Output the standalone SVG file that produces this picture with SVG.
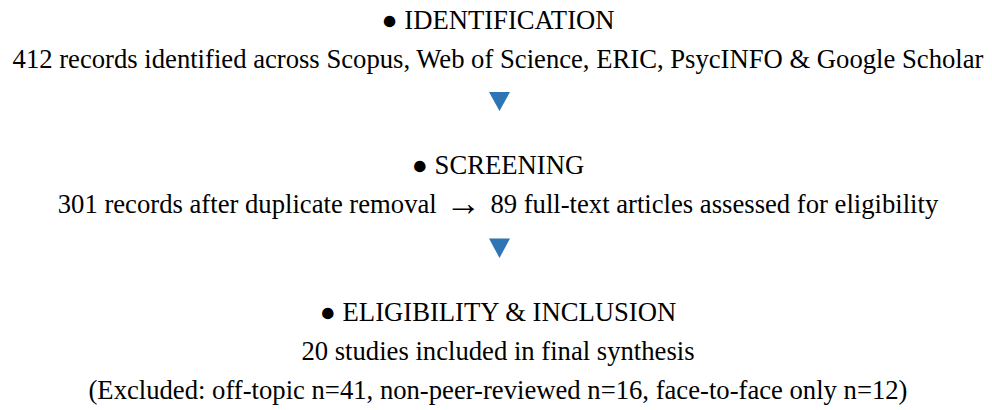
<svg xmlns="http://www.w3.org/2000/svg" width="992" height="410" viewBox="0 0 992 410">
  <style>
    text { font-family: 'Liberation Serif', 'DejaVu Serif', serif; font-size: 26.67px; fill: #000; text-anchor: middle; }
    .sym { font-size: 36px; }
    .arrow { fill: #2E75B6; }
  </style>
  <rect width="992" height="410" fill="#ffffff"/>
  <g id="identification">
    <text x="498" y="29">● IDENTIFICATION</text>
    <text x="498" y="68">412 records identified across Scopus, Web of Science, ERIC, PsycINFO &amp; Google Scholar</text>
  </g>
  <g id="screening">
    <text x="498" y="213">301 records after duplicate removal&#160; <tspan class="sym" dx="-4.5" dy="2">→</tspan><tspan dx="-4.5" dy="-2">&#160; 89 full-text articles assessed for eligibility</tspan></text>
    <text x="498" y="174">● SCREENING</text>
  </g>
  <g id="eligibility">
    <text x="498" y="321">● ELIGIBILITY &amp; INCLUSION</text>
    <text x="498" y="360">20 studies included in final synthesis</text>
    <text x="498" y="399">(Excluded: off-topic n=41, non-peer-reviewed n=16, face-to-face only n=12)</text>
  </g>
  <g id="connectors">
    <polygon class="arrow" points="489,92 510,92 499.5,111"/>
    <polygon class="arrow" points="489,238.5 510,238.5 499.5,258"/>
  </g>
</svg>
